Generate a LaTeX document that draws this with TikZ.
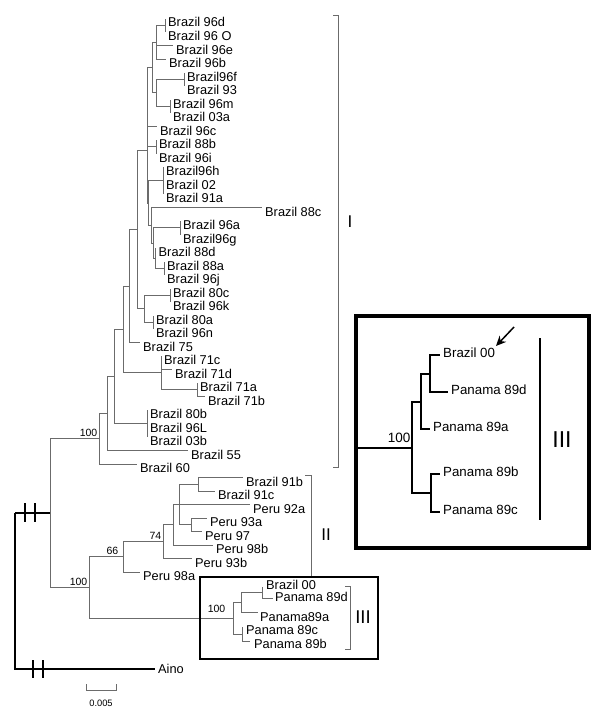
\documentclass[tikz,border=0pt]{standalone}
\usepackage{fontspec}
\setmainfont{Liberation Sans}
\usetikzlibrary{arrows.meta}
\definecolor{treegrey}{rgb}{0.42, 0.42, 0.42}
\tikzset{tedge/.style={line width=0.9pt, color=treegrey}}
\tikzset{redge/.style={line width=1.2pt, color=black}}
\tikzset{bedge/.style={line width=1.8pt, color=black}}
\tikzset{cutmark/.style={line width=1.6pt, color=black}}
\tikzset{taxon/.style={anchor=base west, inner sep=0pt, xshift=3pt, yshift=-8.5pt, font=\fontsize{12.8}{14}\selectfont}}
\tikzset{ptaxon/.style={anchor=base west, inner sep=0pt, font=\fontsize{12.8}{14}\selectfont}}
\tikzset{bigtaxon/.style={anchor=base west, inner sep=0pt, xshift=3pt, yshift=-2.8pt, font=\fontsize{13.3}{15}\selectfont}}
\tikzset{bootval/.style={anchor=south east, inner sep=1.5pt, font=\fontsize{10.5}{12}\selectfont}}
\tikzset{cladebar/.style={line width=0.9pt, color=treegrey}}
\tikzset{cladename/.style={inner sep=0pt, font=\fontsize{17}{19}\selectfont}}

\begin{document}
\begin{tikzpicture}[x=1pt, y=-1pt]
    \useasboundingbox (0,0) rectangle (600,712);

    % tips of the taxa
    \coordinate (t96d) at (165, 18.5);
    \coordinate (t96O) at (165, 32);
    \coordinate (t96e) at (173, 45.5);
    \coordinate (t96b) at (166, 59);
    \coordinate (t96f) at (184, 72.5);
    \coordinate (t93) at (184, 86);
    \coordinate (t96m) at (170, 99.5);
    \coordinate (t03a) at (170, 113);
    \coordinate (t96c) at (157, 126.5);
    \coordinate (t88b) at (156, 140);
    \coordinate (t96i) at (156, 153.5);
    \coordinate (t96h) at (163, 167);
    \coordinate (t02) at (163, 180.5);
    \coordinate (t91a) at (163, 194);
    \coordinate (t88c) at (262, 207.5);
    \coordinate (t96a) at (180, 221);
    \coordinate (t96g) at (180, 234.5);
    \coordinate (t88d) at (155.5, 248);
    \coordinate (t88a) at (164, 261.5);
    \coordinate (t96j) at (164, 275);
    \coordinate (t80c) at (170, 288.5);
    \coordinate (t96k) at (170, 302);
    \coordinate (t80a) at (153, 315.5);
    \coordinate (t96n) at (153, 329);
    \coordinate (t75) at (140, 342.5);
    \coordinate (t71c) at (161, 356);
    \coordinate (t71d) at (172, 369.5);
    \coordinate (t71a) at (197, 383);
    \coordinate (t71b) at (205, 396.5);
    \coordinate (t80b) at (147, 410);
    \coordinate (t96L) at (147, 423.5);
    \coordinate (t03b) at (147, 437);
    \coordinate (t55) at (188, 450.5);
    \coordinate (t60) at (137, 464);
    \coordinate (t91b) at (243, 477.5);
    \coordinate (t91c) at (215, 491);
    \coordinate (t92a) at (250, 504.5);
    \coordinate (t93a) at (207, 518);
    \coordinate (t97) at (202, 531.5);
    \coordinate (t98b) at (213, 545);
    \coordinate (t93b) at (192, 558.5);
    \coordinate (t98a) at (140, 572);
    \coordinate (tB00) at (262, 587);
    \coordinate (t89d) at (273, 598);
    \coordinate (t89a) at (258, 612);
    \coordinate (t89c) at (242, 627);
    \coordinate (t89b) at (250, 641);
    \coordinate (tAino) at (155, 669);

    % inner nodes
    \coordinate (n1) at (165, 25.25);
    \coordinate (n2) at (156, 42);
    \coordinate (n3) at (184, 79.25);
    \coordinate (n4) at (170, 106.25);
    \coordinate (n5) at (156, 92.75);
    \coordinate (n6) at (152, 67.4);
    \coordinate (n7) at (156, 146.75);
    \coordinate (n8) at (163, 180.5);
    \coordinate (n9) at (180, 227.75);
    \coordinate (n10) at (164, 268.25);
    \coordinate (n11) at (155.5, 258);
    \coordinate (n12) at (153, 243);
    \coordinate (n13) at (151, 225);
    \coordinate (n14) at (148, 203);
    \coordinate (nA) at (147, 150);
    \coordinate (n15) at (170, 295.25);
    \coordinate (n16) at (153, 322.25);
    \coordinate (nD) at (144, 308.75);
    \coordinate (nC) at (137, 229.4);
    \coordinate (nE) at (129, 286);
    \coordinate (n17) at (197, 389.75);
    \coordinate (n18) at (161, 372.9);
    \coordinate (nF) at (123, 329.4);
    \coordinate (n19) at (147, 423.5);
    \coordinate (nG) at (114, 376.5);
    \coordinate (nH) at (107, 413.5);
    \coordinate (nI) at (99, 438.75);
    \coordinate (nT) at (198, 484.25);
    \coordinate (nS) at (191, 524.75);
    \coordinate (nP) at (179, 504.5);
    \coordinate (nN) at (173, 524.75);
    \coordinate (nM) at (163, 541.6);
    \coordinate (nL) at (123, 556.8);
    \coordinate (nPc) at (262, 592.5);
    \coordinate (nPa) at (241, 602.25);
    \coordinate (nPb) at (242, 634);
    \coordinate (nPg) at (233, 618);
    \coordinate (nK) at (89, 587.4);
    \coordinate (nJ) at (50, 513);
    \coordinate (nR) at (15, 513);

    % labels
    \node[taxon] (l96d) at (t96d) {Brazil 96d};
    \node[taxon] (l96O) at (t96O) {Brazil 96 O};
    \node[taxon] (l96e) at (t96e) {Brazil 96e};
    \node[taxon] (l96b) at (t96b) {Brazil 96b};
    \node[taxon] (l96f) at (t96f) {Brazil96f};
    \node[taxon] (l93) at (t93) {Brazil 93};
    \node[taxon] (l96m) at (t96m) {Brazil 96m};
    \node[taxon] (l03a) at (t03a) {Brazil 03a};
    \node[taxon] (l96c) at (t96c) {Brazil 96c};
    \node[taxon] (l88b) at (t88b) {Brazil 88b};
    \node[taxon] (l96i) at (t96i) {Brazil 96i};
    \node[taxon] (l96h) at (t96h) {Brazil96h};
    \node[taxon] (l02) at (t02) {Brazil 02};
    \node[taxon] (l91a) at (t91a) {Brazil 91a};
    \node[taxon] (l88c) at (t88c) {Brazil 88c};
    \node[taxon] (l96a) at (t96a) {Brazil 96a};
    \node[taxon] (l96g) at (t96g) {Brazil96g};
    \node[taxon] (l88d) at (t88d) {Brazil 88d};
    \node[taxon] (l88a) at (t88a) {Brazil 88a};
    \node[taxon] (l96j) at (t96j) {Brazil 96j};
    \node[taxon] (l80c) at (t80c) {Brazil 80c};
    \node[taxon] (l96k) at (t96k) {Brazil 96k};
    \node[taxon] (l80a) at (t80a) {Brazil 80a};
    \node[taxon] (l96n) at (t96n) {Brazil 96n};
    \node[taxon] (l75) at (t75) {Brazil 75};
    \node[taxon] (l71c) at (t71c) {Brazil 71c};
    \node[taxon] (l71d) at (t71d) {Brazil 71d};
    \node[taxon] (l71a) at (t71a) {Brazil 71a};
    \node[taxon] (l71b) at (t71b) {Brazil 71b};
    \node[taxon] (l80b) at (t80b) {Brazil 80b};
    \node[taxon] (l96L) at (t96L) {Brazil 96L};
    \node[taxon] (l03b) at (t03b) {Brazil 03b};
    \node[taxon] (l55) at (t55) {Brazil 55};
    \node[taxon] (l60) at (t60) {Brazil 60};
    \node[taxon] (l91b) at (t91b) {Brazil 91b};
    \node[taxon] (l91c) at (t91c) {Brazil 91c};
    \node[taxon] (l92a) at (t92a) {Peru 92a};
    \node[taxon] (l93a) at (t93a) {Peru 93a};
    \node[taxon] (l97) at (t97) {Peru 97};
    \node[taxon] (l98b) at (t98b) {Peru 98b};
    \node[taxon] (l93b) at (t93b) {Peru 93b};
    \node[taxon] (l98a) at (t98a) {Peru 98a};
    \node[ptaxon] (lB00) at (266, 589.6) {Brazil 00};
    \node[ptaxon] (l89d) at (275, 601.6) {Panama 89d};
    \node[ptaxon] (l89a) at (260, 621.6) {Panama89a};
    \node[ptaxon] (l89c) at (246, 634.6) {Panama 89c};
    \node[ptaxon] (l89b) at (254, 648.6) {Panama 89b};
    \node[taxon, yshift=4.3pt] (lAino) at (tAino) {Aino};

    % branches
    \draw[tedge] (n1) |- (t96d);
    \draw[tedge] (n1) |- (t96O);
    \draw[tedge] (n2) |- (n1);
    \draw[tedge] (n2) |- (t96e);
    \draw[tedge] (n2) |- (t96b);
    \draw[tedge] (n3) |- (t96f);
    \draw[tedge] (n3) |- (t93);
    \draw[tedge] (n4) |- (t96m);
    \draw[tedge] (n4) |- (t03a);
    \draw[tedge] (n5) |- (n3);
    \draw[tedge] (n5) |- (n4);
    \draw[tedge] (n6) |- (n2);
    \draw[tedge] (n6) |- (n5);
    \draw[tedge] (n7) |- (t88b);
    \draw[tedge] (n7) |- (t96i);
    \draw[tedge] (n8) |- (t96h);
    \draw[tedge] (n8) |- (t02);
    \draw[tedge] (n8) |- (t91a);
    \draw[tedge] (n9) |- (t96a);
    \draw[tedge] (n9) |- (t96g);
    \draw[tedge] (n10) |- (t88a);
    \draw[tedge] (n10) |- (t96j);
    \draw[tedge] (n11) |- (t88d);
    \draw[tedge] (n11) |- (n10);
    \draw[tedge] (n12) |- (n9);
    \draw[tedge] (n12) |- (n11);
    \draw[tedge] (n13) |- (t88c);
    \draw[tedge] (n13) |- (n12);
    \draw[tedge] (n14) |- (n8);
    \draw[tedge] (n14) |- (n13);
    \draw[tedge] (nA) |- (n6);
    \draw[tedge] (nA) |- (t96c);
    \draw[tedge] (nA) |- (n7);
    \draw[tedge] (nA) |- (n14);
    \draw[tedge] (n15) |- (t80c);
    \draw[tedge] (n15) |- (t96k);
    \draw[tedge] (n16) |- (t80a);
    \draw[tedge] (n16) |- (t96n);
    \draw[tedge] (nD) |- (n15);
    \draw[tedge] (nD) |- (n16);
    \draw[tedge] (nC) |- (nA);
    \draw[tedge] (nC) |- (nD);
    \draw[tedge] (nE) |- (nC);
    \draw[tedge] (nE) |- (t75);
    \draw[tedge] (n17) |- (t71a);
    \draw[tedge] (n17) |- (t71b);
    \draw[tedge] (n18) |- (t71c);
    \draw[tedge] (n18) |- (t71d);
    \draw[tedge] (n18) |- (n17);
    \draw[tedge] (nF) |- (nE);
    \draw[tedge] (nF) |- (n18);
    \draw[tedge] (n19) |- (t80b);
    \draw[tedge] (n19) |- (t96L);
    \draw[tedge] (n19) |- (t03b);
    \draw[tedge] (nG) |- (nF);
    \draw[tedge] (nG) |- (n19);
    \draw[tedge] (nH) |- (nG);
    \draw[tedge] (nH) |- (t55);
    \draw[tedge] (nI) |- (nH);
    \draw[tedge] (nI) |- (t60);
    \draw[tedge] (nT) |- (t91b);
    \draw[tedge] (nT) |- (t91c);
    \draw[tedge] (nS) |- (t93a);
    \draw[tedge] (nS) |- (t97);
    \draw[tedge] (nP) |- (nT);
    \draw[tedge] (nP) |- (t92a);
    \draw[tedge] (nP) |- (nS);
    \draw[tedge] (nN) |- (nP);
    \draw[tedge] (nN) |- (t98b);
    \draw[tedge] (nM) |- (nN);
    \draw[tedge] (nM) |- (t93b);
    \draw[tedge] (nL) |- (nM);
    \draw[tedge] (nL) |- (t98a);
    \draw[tedge] (nPc) |- (tB00);
    \draw[tedge] (nPc) |- (t89d);
    \draw[tedge] (nPa) |- (nPc);
    \draw[tedge] (nPa) |- (t89a);
    \draw[tedge] (nPb) |- (t89c);
    \draw[tedge] (nPb) |- (t89b);
    \draw[tedge] (nPg) |- (nPa);
    \draw[tedge] (nPg) |- (nPb);
    \draw[tedge] (nK) |- (nL);
    \draw[tedge] (nK) |- (nPg);
    \draw[tedge] (nJ) |- (nI);
    \draw[tedge] (nJ) |- (nK);
    \draw[redge] (nR) |- (nJ);
    \draw[redge] (nR) |- (tAino);

    % broken branches
    \draw[cutmark] (25, 503) -- (25, 522);
    \draw[cutmark] (35, 503) -- (35, 522);
    \draw[cutmark] (33, 660) -- (33, 678);
    \draw[cutmark] (43, 660) -- (43, 678);

    % bootstrap values
    \node[bootval] (bI) at (nI) {100};
    \node[bootval] (bK) at (nK) {100};
    \node[bootval, xshift=-3pt, yshift=1pt] (bL) at (nL) {66};
    \node[bootval] (bM) at (nM) {74};
    \node[bootval, xshift=-6pt, yshift=4pt] (bPg) at (nPg) {100};

    % scale bar
    \draw[tedge] (86, 684) -- (86, 690) -- (116, 690) -- (116, 684);
    \node[font=\fontsize{9.3}{11}\selectfont, inner sep=0pt] (scl) at (101, 703) {0.005};

    % clades
    \draw[cladebar] (333, 15) -- (338, 15) -- (338, 467) -- (333, 467);
    \node[cladename] (cI) at (350, 222) {I};
    \draw[cladebar] (305, 475) -- (311, 475) -- (311, 577);
    \node[cladename] (cII) at (326, 535) {II};
    \draw[cladebar] (345, 586) -- (350, 586) -- (350, 649) -- (345, 649);
    \node[cladename, font=\fontsize{18.5}{20}\selectfont] (cIII) at (363, 617) {III};
    \draw[line width=2.8pt] (200, 577) rectangle (378, 659);

    % enlarged clade III
    \draw[line width=4pt] (355.5, 315.5) rectangle (589, 548);
    \coordinate (bIn) at (357, 448);
    \coordinate (bA) at (412, 448);
    \coordinate (bB) at (421, 402);
    \coordinate (bC) at (431, 493);
    \coordinate (bD) at (430, 374);
    \coordinate (bt00) at (440, 355);
    \coordinate (bt89d) at (448, 392);
    \coordinate (bt89a) at (430, 429);
    \coordinate (bt89b) at (440, 474);
    \coordinate (bt89c) at (440, 512);
    \node[bigtaxon] (bl00) at (bt00) {Brazil 00};
    \node[bigtaxon] (bl89d) at (bt89d) {Panama 89d};
    \node[bigtaxon] (bl89a) at (bt89a) {Panama 89a};
    \node[bigtaxon] (bl89b) at (bt89b) {Panama 89b};
    \node[bigtaxon] (bl89c) at (bt89c) {Panama 89c};
    \draw[bedge] (bIn) -- (bA);
    \draw[bedge] (bA) |- (bB);
    \draw[bedge] (bA) |- (bC);
    \draw[bedge] (bB) |- (bD);
    \draw[bedge] (bB) |- (bt89a);
    \draw[bedge] (bD) |- (bt00);
    \draw[bedge] (bD) |- (bt89d);
    \draw[bedge] (bC) |- (bt89b);
    \draw[bedge] (bC) |- (bt89c);
    \node[bootval, font=\fontsize{13.5}{15}\selectfont, yshift=4pt] (bbA) at (bA) {100};
    \draw[line width=1.5pt] (540, 338) -- (540, 520);
    \node[cladename, font=\fontsize{23}{25}\selectfont] (bcIII) at (562, 440) {III};
    \coordinate (arrTail) at (514, 327);
    \coordinate (arrTip) at (496, 346);
    \draw[line width=1.5pt, -{Stealth[length=10pt, width=9pt]}] (arrTail) -- (arrTip);
\end{tikzpicture}
\end{document}
